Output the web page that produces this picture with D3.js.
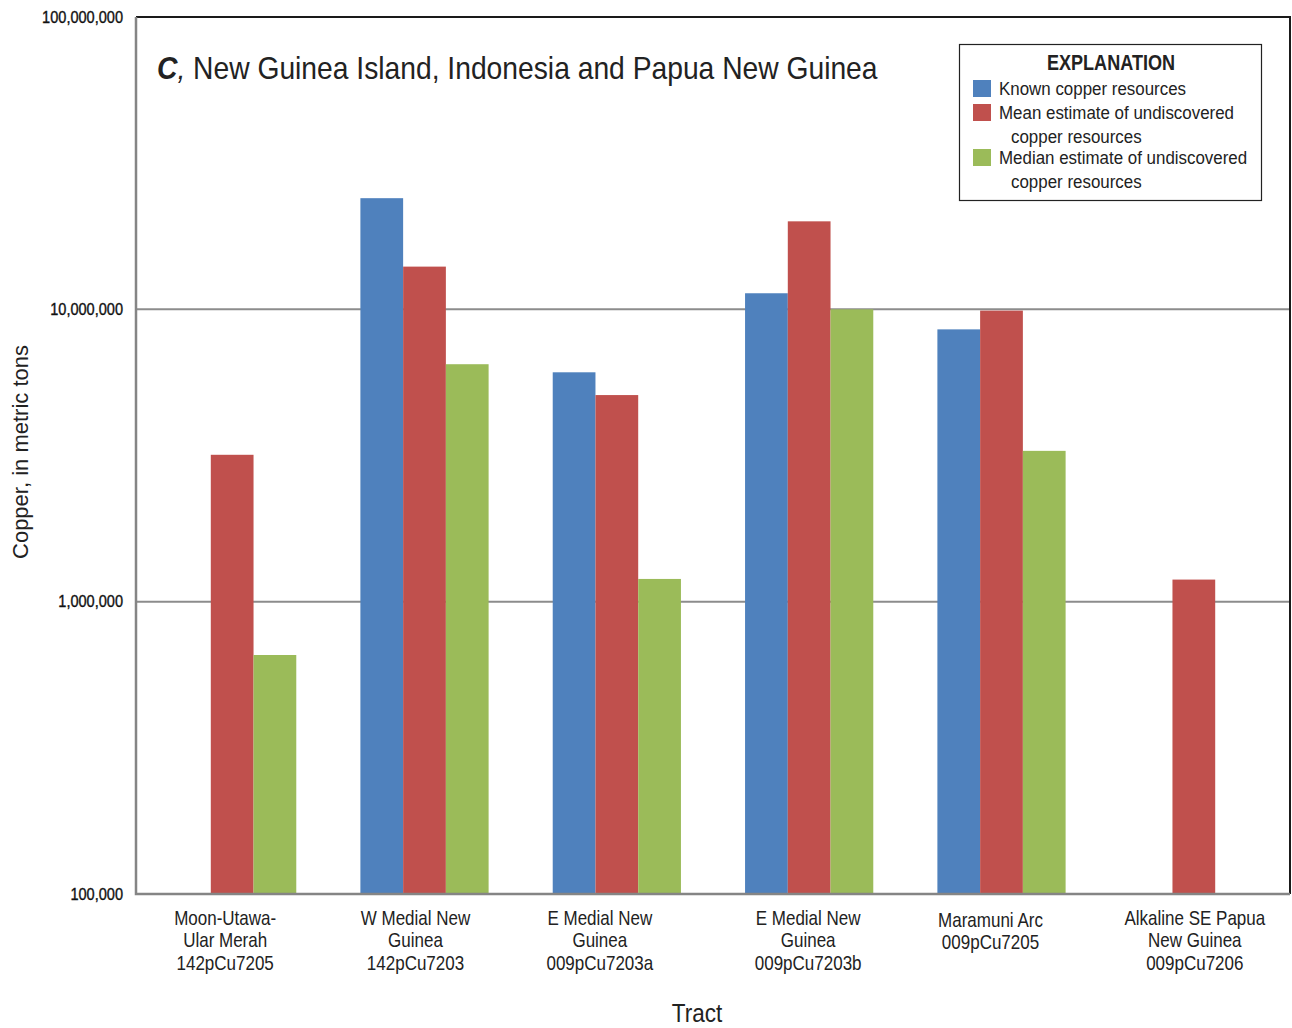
<!DOCTYPE html>
<html>
<head>
<meta charset="utf-8">
<script src="https://cdn.jsdelivr.net/npm/d3@7"></script>
<style>
  html, body { margin: 0; padding: 0; background: #fff; }
  svg { display: block; font-family: "Liberation Sans", Arial, sans-serif; }
</style>
</head>
<body>
<svg id="chart" width="1292" height="1028"></svg>
<script>
// Tracts (multi-line category labels)
const tracts = [
  ["Moon-Utawa-", "Ular Merah", "142pCu7205"],
  ["W Medial New", "Guinea", "142pCu7203"],
  ["E Medial New", "Guinea", "009pCu7203a"],
  ["E Medial New", "Guinea", "009pCu7203b"],
  ["Maramuni Arc", "009pCu7205"],
  ["Alkaline SE Papua", "New Guinea", "009pCu7206"]
];

const seriesNames = ["Known copper resources", "Mean estimate of undiscovered", "Median estimate of undiscovered"];

// Copper, in metric tons (null = no bar)
const knownCopper  = [null,     24000000, 6090000, 11350000, 8540000, null];
const meanCopper   = [3180000,  14000000, 5090000, 20000000, 9900000, 1190000];
const medianCopper = [657000,   6490000,  1196000, 10000000, 3280000, null];

const yTickValues = [100000, 1000000, 10000000, 100000000];

const colors = ["#4f81bd", "#c0504d", "#9bbb59"];

const svg = d3.select("#chart");
const margin = { left: 136, top: 17, right: 1290, bottom: 894 };

// Squeeze a text element horizontally around its anchor x to get a condensed face
function condense(sel, ax, f) {
  sel.attr("transform", `translate(${ax},0) scale(${f},1) translate(${-ax},0)`);
}

const x0 = d3.scaleBand()
  .domain(d3.range(tracts.length))
  .range([margin.left, margin.right])
  .paddingInner(1 / 3)
  .paddingOuter(1 / 6);

const x1 = d3.scaleBand()
  .domain([0, 1, 2])
  .range([0, x0.bandwidth()]);

const y = d3.scaleLog()
  .domain([1e5, 1e8])
  .range([margin.bottom, margin.top]);

// Gridlines
svg.append("g")
  .selectAll("line")
  .data(yTickValues.slice(1, -1))
  .join("line")
  .attr("x1", margin.left)
  .attr("x2", margin.right)
  .attr("y1", d => y(d))
  .attr("y2", d => y(d))
  .attr("stroke", "#8c8c8c")
  .attr("stroke-width", 2);

// Bars
const series = [knownCopper, meanCopper, medianCopper];
const barData = [];
series.forEach((vals, s) => {
  vals.forEach((v, i) => {
    if (v != null) barData.push({ s, i, v });
  });
});

svg.append("g")
  .selectAll("rect")
  .data(barData)
  .join("rect")
  .attr("x", d => x0(d.i) + x1(d.s))
  .attr("width", x1.bandwidth())
  .attr("y", d => y(d.v))
  .attr("height", d => y(1e5) - y(d.v))
  .attr("fill", d => colors[d.s]);

// Frame: dark top and right, gray axes on left and bottom
svg.append("path")
  .attr("d", `M${margin.left},${margin.top}H${margin.right}V${margin.bottom}`)
  .attr("fill", "none")
  .attr("stroke", "#1a1a1a")
  .attr("stroke-width", 2);

svg.append("path")
  .attr("d", `M${margin.left},${margin.top}V${margin.bottom}H${margin.right}`)
  .attr("fill", "none")
  .attr("stroke", "#858585")
  .attr("stroke-width", 2.5);

// Y axis tick labels
const fmt = d3.format(",");
svg.append("g")
  .selectAll("text")
  .data(yTickValues)
  .join("text")
  .attr("x", 123)
  .attr("y", d => y(d))
  .attr("dy", "0.35em")
  .attr("text-anchor", "end")
  .attr("font-size", 16)
  .attr("fill", "#111")
  .attr("stroke", "#111")
  .attr("stroke-width", 0.35)
  .text(d => fmt(d))
  .call(condense, 123, 0.91);

// Category labels
const labelNudge = [-7, -9, -17, -1, -11, 1];
const catG = svg.append("g");
tracts.forEach((lines, i) => {
  const cx = x0(i) + x0.bandwidth() / 2 + labelNudge[i];
  lines.forEach((ln, k) => {
    catG.append("text")
      .attr("x", cx)
      .attr("y", 925 + k * 22.5 + (lines.length === 2 ? 2 : 0))
      .attr("text-anchor", "middle")
      .attr("font-size", 20)
      .attr("fill", "#222")
      .text(ln)
      .call(condense, cx, 0.85);
  });
});

// Axis titles
svg.append("text")
  .attr("x", 697)
  .attr("y", 1022)
  .attr("text-anchor", "middle")
  .attr("font-size", 25)
  .attr("fill", "#222")
  .text("Tract")
  .call(condense, 697, 0.9);

svg.append("text")
  .attr("transform", "translate(28,452) rotate(-90)")
  .attr("text-anchor", "middle")
  .attr("font-size", 22)
  .attr("fill", "#222")
  .text("Copper, in metric tons");

// Panel title
const title = svg.append("text")
  .attr("x", 157)
  .attr("y", 79)
  .attr("font-size", 31)
  .attr("fill", "#222");
title.append("tspan")
  .attr("font-weight", "bold")
  .attr("font-style", "italic")
  .text("C");
title.append("tspan")
  .attr("font-style", "italic")
  .text(",");
title.append("tspan")
  .text(" New Guinea Island, Indonesia and Papua New Guinea");
const titleW = title.node().getComputedTextLength();
title.call(condense, 157, 721 / titleW);

// Legend
const lg = svg.append("g");
lg.append("rect")
  .attr("x", 959.5)
  .attr("y", 44.5)
  .attr("width", 302)
  .attr("height", 156)
  .attr("fill", "#fff")
  .attr("stroke", "#222")
  .attr("stroke-width", 1.2);

lg.append("text")
  .attr("x", 1111)
  .attr("y", 70)
  .attr("text-anchor", "middle")
  .attr("font-size", 21.5)
  .attr("font-weight", "bold")
  .attr("fill", "#222")
  .text("EXPLANATION")
  .call(condense, 1111, 0.84);

const legendRows = [
  { s: 0, top: 80, lines: [seriesNames[0]] },
  { s: 1, top: 104, lines: [seriesNames[1], "copper resources"] },
  { s: 2, top: 149, lines: [seriesNames[2], "copper resources"] }
];
legendRows.forEach(r => {
  lg.append("rect")
    .attr("x", 973)
    .attr("y", r.top)
    .attr("width", 18)
    .attr("height", 17)
    .attr("fill", colors[r.s]);
  r.lines.forEach((ln, k) => {
    const lx = k === 0 ? 999 : 1011;
    lg.append("text")
      .attr("x", lx)
      .attr("y", r.top + 15 + k * 24)
      .attr("font-size", 18.3)
      .attr("fill", "#222")
      .text(ln)
      .call(condense, lx, 0.925);
  });
});
</script>
</body>
</html>
